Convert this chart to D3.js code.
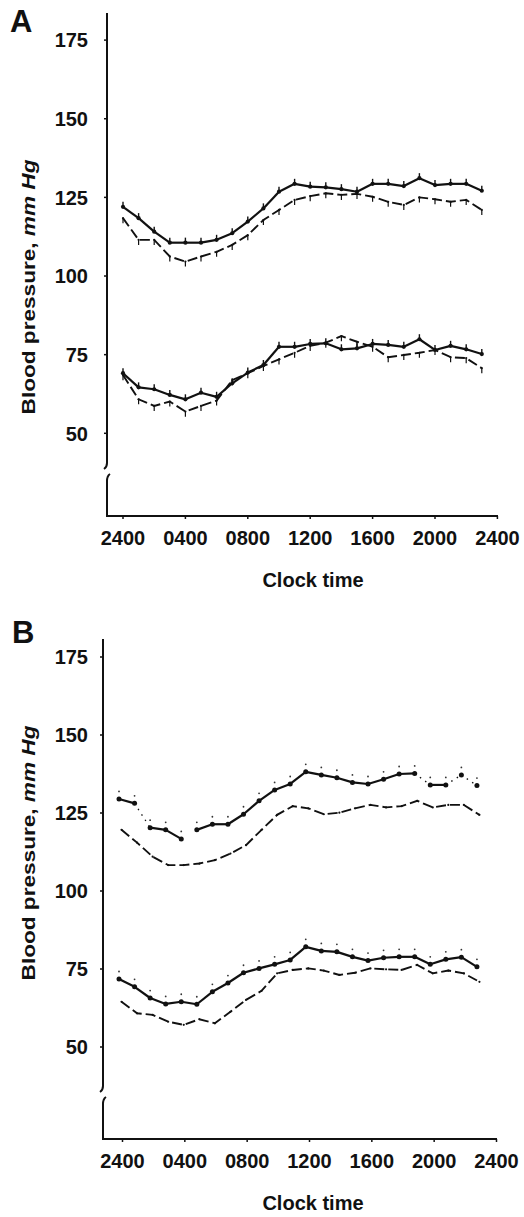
<!DOCTYPE html>
<html lang="en">
<head>
<meta charset="UTF-8">
<title>Blood pressure by clock time</title>
<script src="https://cdn.jsdelivr.net/npm/d3@7/dist/d3.min.js"></script>
<style>
body{margin:0;background:#fff}
svg{display:block}
text{font-family:"Liberation Sans",Arial,sans-serif;font-weight:bold;fill:#111}
</style>
</head>
<body>
<div id="grafica"></div>
<script>
// hourly readings, 2400 = hour 0
hours=[0,1,2,3,4,5,6,7,8,9,10,11,12,13,14,15,16,17,18,19,20,21,22,23]
xTicks=[0,4,8,12,16,20,24]
xTickLabels=['2400','0400','0800','1200','1600','2000','2400']
yTicks=[50,75,100,125,150,175]

// panel A (mm Hg)
aSysSolid=[122.0,118.4,114.1,110.6,110.6,110.6,111.5,113.6,117.3,121.5,126.8,129.3,128.4,128.2,127.6,126.8,129.3,129.3,128.6,131.1,128.9,129.3,129.3,127.1]
aSysDash=[118.4,111.5,111.5,106.2,104.6,106.2,107.7,109.9,113.0,117.8,121.0,124.2,125.4,126.3,125.8,126.1,125.2,123.6,122.6,125.0,124.4,123.6,124.2,121.0]
aDiaSolid=[69.1,64.6,64.0,62.2,60.8,62.9,61.6,65.9,69.3,71.7,77.5,77.5,78.4,78.6,76.7,77.0,78.4,78.1,77.5,79.9,76.5,77.8,76.7,75.2]
aDiaDash=[68.5,60.8,58.7,60.1,56.9,58.7,60.4,66.9,69.1,71.4,73.5,75.6,77.8,78.8,80.9,79.1,77.5,74.2,74.9,75.6,76.5,74.2,73.9,70.7]

// panel B (mm Hg)
bSysSolid=[129.5,128.1,120.3,119.6,116.7,119.6,121.4,121.4,124.6,128.9,132.4,134.3,138.2,137.2,136.3,134.8,134.3,135.8,137.5,137.7,134.0,134.0,137.2,133.8]
bSysDash=[119.6,115.5,111.0,108.3,108.3,108.8,109.9,112.0,114.7,119.6,124.4,127.2,126.5,124.6,125.1,126.5,127.6,126.8,127.2,128.9,126.8,127.6,127.6,124.4]
bDiaSolid=[71.8,69.3,65.7,63.8,64.5,63.7,67.7,70.5,73.8,75.2,76.5,77.9,82.1,80.8,80.5,78.9,77.7,78.6,78.9,78.9,76.5,78.1,78.8,75.7]
bDiaDash=[64.5,60.8,60.3,58.1,57.1,58.9,57.6,61.3,65.1,68.0,73.6,74.7,75.2,74.5,73.1,73.8,75.2,74.9,74.7,76.3,73.6,74.5,73.6,70.9]

// standard error bars (mm Hg)
semSolid=1.6
semDash=1.6
semB=2.4

W=524, H=1217
svg=d3.select('#grafica').append('svg').attr('width',W).attr('height',H)

function panel(o) {
	var g=svg.append('g')
	var x=d3.scaleLinear().domain([0,24]).range([o.x0,o.x1])
	var xs=d3.scaleLinear().domain([0,24]).range([o.s0,o.s1])
	var xd=d3.scaleLinear().domain([0,24]).range([o.d0,o.d1])
	var y=d3.scaleLinear().domain([50,175]).range([o.y50,o.y175])

	// axes, with the break in the y axis
	g.append('path')
		.attr('d','M'+o.ax+','+o.top+'L'+o.ax+','+(o.brk-2)+'Q'+o.ax+','+(o.brk+2)+' '+(o.ax-3)+','+(o.brk+4))
		.attr('fill','none').attr('stroke','#111').attr('stroke-width',2)
	g.append('path')
		.attr('d','M'+(o.ax+3)+','+(o.brk+9)+'Q'+o.ax+','+(o.brk+11)+' '+o.ax+','+(o.brk+16)+'L'+o.ax+','+o.base+'L'+o.xEnd+','+o.base)
		.attr('fill','none').attr('stroke','#111').attr('stroke-width',2)

	yTicks.forEach(function(t){
		g.append('line').attr('x1',o.ax-3).attr('x2',o.ax).attr('y1',y(t)).attr('y2',y(t))
			.attr('stroke','#111').attr('stroke-width',1.5)
		g.append('text').attr('x',88).attr('y',y(t)).attr('dy','0.36em')
			.attr('text-anchor','end').attr('font-size',20).text(t)
	})
	xTicks.forEach(function(t,i){
		g.append('line').attr('x1',x(t)).attr('x2',x(t)).attr('y1',o.base).attr('y2',o.base+3)
			.attr('stroke','#111').attr('stroke-width',1.5)
		g.append('text').attr('x',x(t)).attr('y',o.base+29)
			.attr('text-anchor','middle').attr('font-size',20).text(xTickLabels[i])
	})
	g.append('text').attr('x',313).attr('y',o.base+71)
		.attr('text-anchor','middle').attr('font-size',20).text('Clock time')

	g.append('text').attr('x',o.letterX).attr('y',o.letterY).attr('font-size',31).text(o.letter)

	var yl=g.append('text').attr('font-size',18).attr('text-anchor','middle')
	yl.append('tspan').text('Blood pressure, ')
	yl.append('tspan').attr('font-style','italic').text('mm Hg')
	var w=yl.node().getComputedTextLength()
	yl.attr('transform','translate(35,'+o.labelY+') rotate(-90) scale('+(255/w)+',1)')

	o.series.forEach(function(s){
		var sx=s.dash?xd:xs
		var line=d3.line().x(function(d,i){return sx(hours[i])}).y(function(d){return y(d)})
		if (s.dash) {
			g.append('path').datum(s.values).attr('d',line)
				.attr('fill','none').attr('stroke','#111').attr('stroke-width',1.9)
				.attr('stroke-dasharray','10,4')
		} else {
			// segment by segment, some are printed faint or missing
			for (var i=0;i<s.values.length-1;i++) {
				var st=(s.faint||{})[i]
				if (st==='gap') continue
				g.append('line')
					.attr('x1',sx(hours[i])).attr('y1',y(s.values[i]))
					.attr('x2',sx(hours[i+1])).attr('y2',y(s.values[i+1]))
					.attr('stroke','#111')
					.attr('stroke-width',st==='dot'?1.3:2.2)
					.attr('stroke-dasharray',st==='dot'?'1.5,5':null)
			}
		}
		if (s.err && o.errDots) {
			g.selectAll(null).data(s.values).enter().append('circle')
				.attr('cx',function(d,i){return sx(hours[i])})
				.attr('cy',function(d){return y(d+s.err)})
				.attr('r',0.9)
				.attr('fill','#333')
		} else if (s.err) {
			g.selectAll(null).data(s.values).enter().append('line')
				.attr('x1',function(d,i){return sx(hours[i])})
				.attr('x2',function(d,i){return sx(hours[i])})
				.attr('y1',function(d){return y(d)})
				.attr('y2',function(d){return y(d+s.err)})
				.attr('stroke','#111').attr('stroke-width',s.dash?1.2:1.4)
		}
		g.selectAll(null).data(s.values).enter().append('circle')
			.attr('cx',function(d,i){return sx(hours[i])})
			.attr('cy',function(d){return y(d)})
			.attr('r',s.dash?1.1:(o.errDots?2.5:2.1))
			.attr('fill','#111')
	})
}

panel({
	letter:'A',letterX:10,letterY:32,
	x0:123,x1:497.4,s0:123,s1:497.4,d0:123,d1:497.4,xEnd:498,ax:107,top:13,brk:465,base:516,
	y50:433.3,y175:40.1,labelY:287,
	series:[
		{values:aSysSolid,err:semSolid},
		{values:aSysDash,dash:true,err:-semDash},
		{values:aDiaSolid,err:semSolid},
		{values:aDiaDash,dash:true,err:-semDash}
	]
})

panel({
	letter:'B',letterX:12,letterY:643,errDots:true,
	x0:122.5,x1:496.5,s0:119,s1:492.5,d0:121.5,d1:495,xEnd:497,ax:103,top:639,brk:1088,base:1139,
	y50:1047,y175:657,labelY:853,
	series:[
		{values:bSysSolid,err:semB,faint:{1:'dot',4:'gap',19:'dot',21:'dot',22:'dot'}},
		{values:bSysDash,dash:true},
		{values:bDiaSolid,err:semB},
		{values:bDiaDash,dash:true}
	]
})
</script>
</body>
</html>
